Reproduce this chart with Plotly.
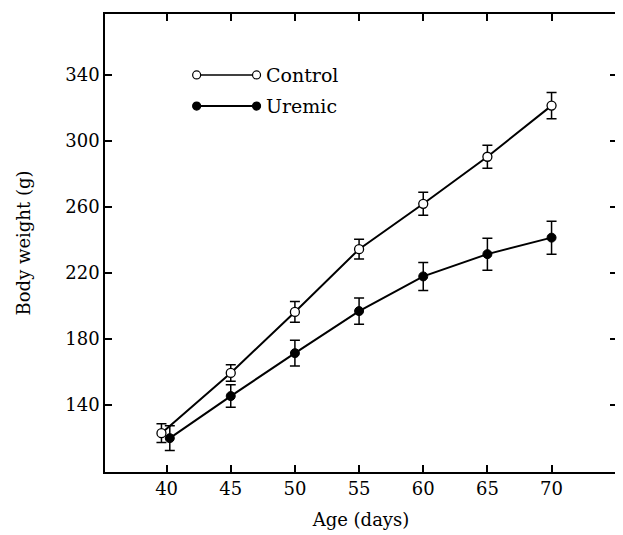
import plotly.graph_objects as go

# Data
age_control = [39.6, 45, 50, 55, 60, 65, 70]
age_uremic = [40.25, 45, 50, 55, 60, 65, 70]
control_mean = [123, 159.5, 196.5, 234.5, 262, 290.5, 321.5]
control_err = [5.7, 5, 6.3, 6, 7, 7, 8]
uremic_mean = [120, 145.5, 171.5, 197, 218, 231.5, 241.5]
uremic_err = [7.5, 6.8, 7.8, 8, 8.5, 9.7, 10]
x_ticks = [40, 45, 50, 55, 60, 65, 70]
y_ticks = [140, 180, 220, 260, 300, 340]
legend_names = ["Control", "Uremic"]

FONT = "DejaVu Serif"

fig = go.Figure()
fig.add_trace(go.Scatter(
    x=age_control, y=control_mean, mode="lines+markers", name=legend_names[0],
    line=dict(color="black", width=2),
    marker=dict(symbol="circle", size=9, color="white", line=dict(color="black", width=1.3)),
    error_y=dict(type="data", array=control_err, color="black", thickness=1.5, width=5),
    showlegend=False,
))
fig.add_trace(go.Scatter(
    x=age_uremic, y=uremic_mean, mode="lines+markers", name=legend_names[1],
    line=dict(color="black", width=2),
    marker=dict(symbol="circle", size=9, color="black", line=dict(color="black", width=1)),
    error_y=dict(type="data", array=uremic_err, color="black", thickness=1.5, width=5),
    showlegend=False,
))

# Hand-drawn style legend (paper coordinates)
shapes = []
annotations = []
for i, (name, fill, yp) in enumerate([(legend_names[0], "white", 0.867), (legend_names[1], "black", 0.799)]):
    x0, x1 = 0.179, 0.296
    shapes.append(dict(type="line", xref="paper", yref="paper", x0=x0, x1=x1, y0=yp, y1=yp,
                       line=dict(color="black", width=2 if i else 1.5)))
    for xa in (x0, x1):
        shapes.append(dict(type="circle", xref="paper", yref="paper", xsizemode="pixel", ysizemode="pixel",
                           xanchor=xa, yanchor=yp, x0=-4, x1=4, y0=-4, y1=4,
                           fillcolor=fill, line=dict(color="black", width=1.2)))
    annotations.append(dict(text=name, xref="paper", yref="paper", x=0.31, y=yp, xanchor="left",
                            yanchor="middle", showarrow=False, font=dict(family=FONT, size=19, color="black")))

fig.update_layout(
    width=615, height=527,
    margin=dict(l=97, r=4, t=6, b=63),
    paper_bgcolor="white", plot_bgcolor="white",
    font=dict(family=FONT, color="black"),
    shapes=shapes, annotations=annotations,
    xaxis=dict(range=[35.2, 75.1], tickvals=x_ticks, ticks="inside", ticklen=7, tickwidth=1.5,
               tickcolor="black", showline=True, linecolor="black", linewidth=1.5, mirror="ticks",
               showgrid=False, zeroline=False, tickfont=dict(family=FONT, size=18),
               title=dict(text="Age (days)", font=dict(family=FONT, size=18), standoff=15)),
    yaxis=dict(range=[99.5, 377], tickvals=y_ticks, ticks="inside", ticklen=7, tickwidth=1.5,
               tickcolor="black", showline=True, linecolor="black", linewidth=1.5, mirror="ticks",
               showgrid=False, zeroline=False, tickfont=dict(family=FONT, size=18),
               title=dict(text="Body weight (g)", font=dict(family=FONT, size=18), standoff=30)),
)

fig.write_html("out.html")
